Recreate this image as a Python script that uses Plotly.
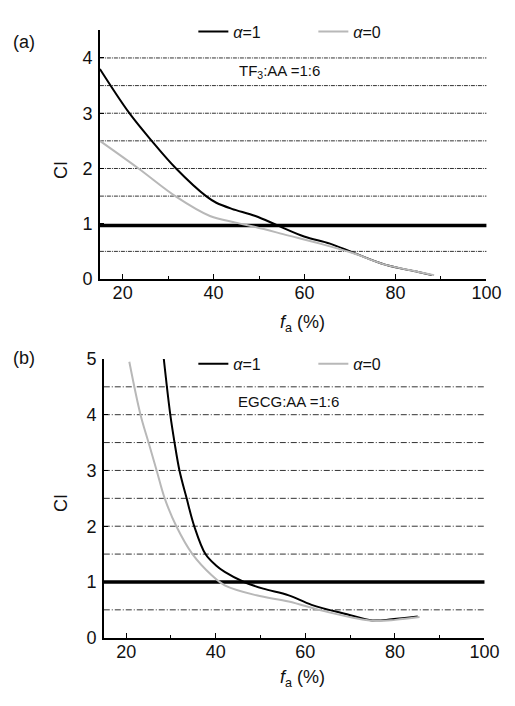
import plotly.graph_objects as go

# ---------------- data ----------------
# Panel (a): TF3:AA = 1:6
a_fa_alpha1 = [15, 21.4, 26.4, 31.75, 38.5, 40.6, 44.0, 49.2, 54.2, 59.9, 65.6, 70.6, 77.7, 84.8, 88]
a_ci_alpha1 = [3.80, 3.01, 2.50, 2.00, 1.49, 1.38, 1.27, 1.14, 0.965, 0.77, 0.64, 0.48, 0.26, 0.13, 0.07]
a_fa_alpha0 = [15, 23.5, 31.75, 39.2, 44.9, 49.2, 56.3, 63.4, 70.6, 77.7, 84.8, 88.5]
a_ci_alpha0 = [2.50, 2.0, 1.49, 1.14, 1.02, 0.94, 0.79, 0.64, 0.47, 0.26, 0.13, 0.07]

# Panel (b): EGCG:AA = 1:6
b_fa_alpha1 = [28.4, 29.85, 30.8, 31.9, 33.5, 35.2, 37.7, 40.0, 42.0, 46.3, 50.6, 56.3, 61.4, 69.3, 75.0, 79.3, 85.1]
b_ci_alpha1 = [5.0, 4.0, 3.5, 3.0, 2.5, 2.0, 1.5, 1.30, 1.18, 1.0, 0.88, 0.76, 0.59, 0.42, 0.31, 0.33, 0.38]
b_fa_alpha0 = [20.7, 23.2, 25.0, 26.8, 28.6, 31.2, 34.8, 39.1, 42.0, 49.1, 56.3, 63.5, 70.7, 75.8, 80.1, 85.5]
b_ci_alpha0 = [4.95, 4.0, 3.5, 3.0, 2.5, 2.0, 1.5, 1.12, 0.94, 0.76, 0.65, 0.49, 0.36, 0.30, 0.32, 0.37]

series_names = ["<i>α</i>=1", "<i>α</i>=0"]
panel_labels = ["(a)", "(b)"]
panel_notes = ["TF<sub>3</sub>:AA =1:6", "EGCG:AA =1:6"]
grid_levels_a = [0.5, 1.5, 2, 2.5, 3, 3.5, 4]
grid_levels_b = [0.5, 1.5, 2, 2.5, 3, 3.5, 4, 4.5]
additive_level_a = 0.97
additive_level_b = 1
x_ticks = [20, 40, 60, 80, 100]

# ---------------- figure ----------------
FONT = "Liberation Sans, Arial, sans-serif"
OFF = 8                      # browser default body margin
W, H = 515 - OFF, 706 - OFF  # figure size so it fits the window
BLACK = "#000000"
GRAY = "#b8b8b8"
TXT = "#111111"


def px_x(p):
    return (p - OFF) / W


def px_y(p):
    return 1 - (p - OFF) / H


fig = go.Figure()

line_kw = dict(width=2, shape="spline", smoothing=1.0)
fig.add_trace(go.Scatter(x=a_fa_alpha1, y=a_ci_alpha1, mode="lines", name=series_names[0],
                         line=dict(color=BLACK, **line_kw), xaxis="x", yaxis="y", legend="legend"))
fig.add_trace(go.Scatter(x=a_fa_alpha0, y=a_ci_alpha0, mode="lines", name=series_names[1],
                         line=dict(color=GRAY, **line_kw), xaxis="x", yaxis="y", legend="legend"))
fig.add_trace(go.Scatter(x=b_fa_alpha1, y=b_ci_alpha1, mode="lines", name=series_names[0],
                         line=dict(color=BLACK, **line_kw), xaxis="x2", yaxis="y2", legend="legend2"))
fig.add_trace(go.Scatter(x=b_fa_alpha0, y=b_ci_alpha0, mode="lines", name=series_names[1],
                         line=dict(color=GRAY, **line_kw), xaxis="x2", yaxis="y2", legend="legend2"))

for lv in grid_levels_a:
    fig.add_shape(type="line", xref="x domain", yref="y", x0=0, x1=1, y0=lv, y1=lv,
                  line=dict(color="#333333", width=1, dash="4px,1px,1px,1px"), layer="below")
for lv in grid_levels_b:
    fig.add_shape(type="line", xref="x2 domain", yref="y2", x0=0, x1=1, y0=lv, y1=lv,
                  line=dict(color="#333333", width=1, dash="6px,2px,1px,2px"), layer="below")
fig.add_shape(type="line", xref="x domain", yref="y", x0=0, x1=1, y0=additive_level_a,
              y1=additive_level_a, line=dict(color=BLACK, width=3.5), layer="below")
fig.add_shape(type="line", xref="x2 domain", yref="y2", x0=0, x1=1, y0=additive_level_b,
              y1=additive_level_b, line=dict(color=BLACK, width=3.5), layer="below")

xaxis_common = dict(
    range=[15, 100], tickvals=x_ticks, ticks="inside", ticklen=5, tickwidth=1.2,
    tickcolor=BLACK, showline=True, linecolor=BLACK, linewidth=1.5, showgrid=False,
    zeroline=False, tickfont=dict(family=FONT, size=18, color=TXT),
    minor=dict(dtick=10, tick0=0, ticks="inside", ticklen=3, tickcolor=BLACK, showgrid=False),
    ticklabelstandoff=-3,
)
yaxis_common = dict(
    ticks="inside", ticklen=4, tickwidth=1.2, tickcolor=BLACK, showline=True,
    linecolor=BLACK, linewidth=1.5, showgrid=False, zeroline=False,
    tickfont=dict(family=FONT, size=18, color=TXT), ticklabelstandoff=2,
)

legend_common = dict(orientation="h", xanchor="left", yanchor="middle",
                     bgcolor="rgba(0,0,0,0)", font=dict(family=FONT, size=16, color=TXT),
                     entrywidthmode="pixels", entrywidth=75, itemwidth=30)

fig.update_layout(
    width=W, height=H, margin=dict(l=0, r=0, t=0, b=0),
    paper_bgcolor="white", plot_bgcolor="white",
    font=dict(family=FONT, size=15, color=TXT),
    xaxis=dict(domain=[px_x(102.7), px_x(501)], anchor="y", **xaxis_common),
    yaxis=dict(domain=[px_y(276.7), px_y(20.7)], anchor="x", range=[0, 4.5],
               tickvals=[0, 1, 2, 3, 4, 4.5], ticktext=["0", "1", "2", "3", "4", ""],
               **yaxis_common),
    xaxis2=dict(domain=[px_x(106.7), px_x(499)], anchor="y2", **xaxis_common),
    yaxis2=dict(domain=[px_y(646), px_y(359)], anchor="x2", range=[0, 5],
                tickvals=[0, 1, 2, 3, 4, 5], **yaxis_common),
    legend=dict(x=px_x(199), y=px_y(22), **legend_common),
    legend2=dict(x=px_x(199), y=px_y(364), **legend_common),
)

ann = [
    dict(text=panel_labels[0], x=px_x(25), y=px_y(33)),
    dict(text=panel_labels[1], x=px_x(25), y=px_y(358)),
    dict(text="CI", x=px_x(62), y=px_y(164), textangle=-90),
    dict(text="CI", x=px_x(62), y=px_y(507), textangle=-90),
    dict(text="<i>f</i><sub>a</sub> (%)", x=px_x(311), y=px_y(322)),
    dict(text="<i>f</i><sub>a</sub> (%)", x=px_x(311), y=px_y(688)),
]
for a in ann:
    a.update(xref="paper", yref="paper", showarrow=False, xanchor="center", yanchor="middle",
             font=dict(family=FONT, size=18, color=TXT))
    fig.add_annotation(**a)

fig.add_annotation(text=panel_notes[0], x=px_x(288), y=px_y(63), xref="paper", yref="paper",
                   showarrow=False, xanchor="center", yanchor="middle",
                   font=dict(family=FONT, size=15, color=TXT))
fig.add_annotation(text=panel_notes[1], x=px_x(297), y=px_y(403), xref="paper", yref="paper",
                   showarrow=False, xanchor="center", yanchor="middle",
                   font=dict(family=FONT, size=15, color=TXT))

fig.write_html("out.html")
